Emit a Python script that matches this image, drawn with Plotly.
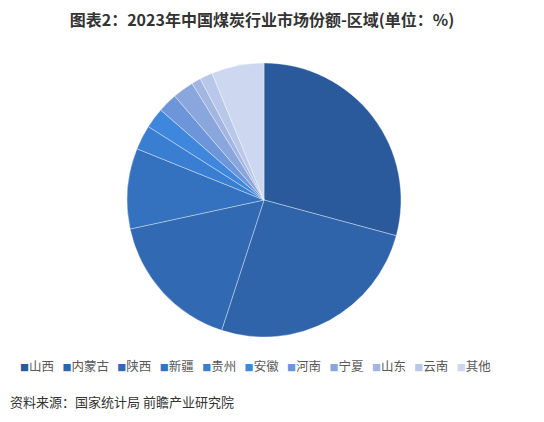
import plotly.graph_objects as go

# 2023 coal output share by region (%)
regions = ["山西", "内蒙古", "陕西", "新疆", "贵州", "安徽", "河南", "宁夏", "山东", "云南", "其他"]
shares = [29.2, 25.8, 16.6, 9.5, 2.9, 2.4, 2.3, 2.5, 1.1, 1.5, 6.2]
colors = ["#2a5a9b", "#2f64aa", "#3169b3", "#3472c0", "#3a7ed2", "#3f86dd",
          "#6d96da", "#89a6dd", "#a3b6e1", "#b9c8ea", "#cdd8f0"]

title_text = "图表2：2023年中国煤炭行业市场份额-区域(单位：%)"
source_text = "资料来源：国家统计局 前瞻产业研究院"

W, H = 544, 422
OFF = 8  # page body margin shifts the figure by 8px


def px_x(x):
    return (x - OFF) / W


def px_y(y):
    return 1 - (y - OFF) / H


# pie centre and radius in screen pixels
cx, cy, r = 264, 200, 137

fig = go.Figure()
fig.add_trace(go.Pie(
    labels=regions,
    values=shares,
    sort=False,
    direction="clockwise",
    rotation=0,
    textinfo="none",
    hoverinfo="label+percent",
    marker=dict(colors=colors, line=dict(color="rgba(255,255,255,0.6)", width=0.6)),
    domain=dict(x=[px_x(cx - r), px_x(cx + r)], y=[px_y(cy + r), px_y(cy - r)]),
    showlegend=False,
))

# legend drawn as one line of coloured squares + labels
items = []
for name, c in zip(regions, colors):
    items.append("<span style='color:%s;font-size:9px'>■</span>%s" % (c, name))
legend_line = "\u00a0\u00a0\u00a0".join(items)

fig.add_annotation(text=legend_line, x=px_x(255), y=px_y(365), xref="paper", yref="paper",
                   xanchor="center", yanchor="middle", showarrow=False,
                   font=dict(size=12.5, color="#595959", family="Noto Sans CJK SC"))

fig.add_annotation(text=source_text, x=px_x(8), y=px_y(401), xref="paper", yref="paper",
                   xanchor="left", yanchor="middle", showarrow=False,
                   font=dict(size=13, color="#333333", family="Noto Sans CJK SC"))

fig.update_layout(
    width=W, height=H,
    margin=dict(l=0, r=0, t=0, b=0),
    paper_bgcolor="white",
    plot_bgcolor="white",
    font=dict(family="Noto Sans CJK SC", color="#333333"),
    title=dict(text="<b>" + title_text + "</b>", x=px_x(262), xanchor="center",
               y=px_y(20), yanchor="middle",
               font=dict(size=16, color="#333333", family="Noto Sans CJK SC")),
)

fig.write_html("out.html")
